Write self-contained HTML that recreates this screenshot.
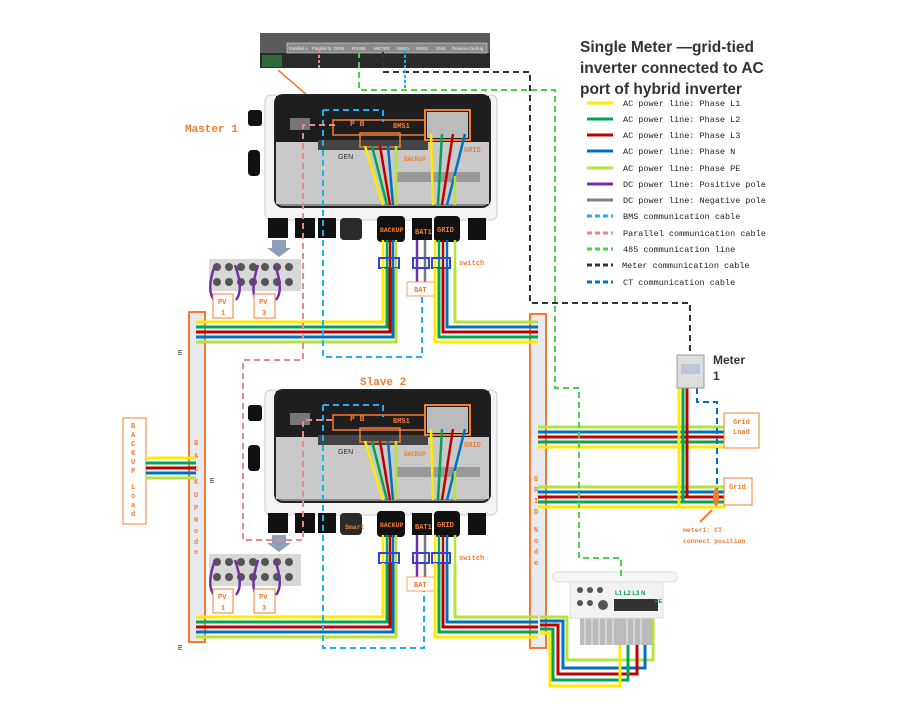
<!DOCTYPE html>
<html><head><meta charset="utf-8"><style>
body{margin:0;background:#fff;}
svg{display:block;font-family:"Liberation Sans",sans-serif;}
.o{fill:#f47c30;font-family:"Liberation Mono",monospace;font-weight:bold;}
.lg{font-family:"Liberation Mono",monospace;font-size:8.5px;fill:#222;}
</style></head><body>
<svg width="906" height="709" viewBox="0 0 906 709" xmlns="http://www.w3.org/2000/svg">
<defs>
<g id="inv">
 <rect x="265" y="95" width="232" height="125" rx="6" fill="#f4f4f4" stroke="#ccc"/>
 <rect x="275" y="95" width="215" height="112" rx="8" fill="#8a8a8a" stroke="#222" stroke-width="2"/>
 <rect x="276" y="96" width="213" height="46" fill="#1e1e1e"/>
 <rect x="276" y="142" width="213" height="62" fill="#c9c9c9"/>
 <rect x="290" y="118" width="20" height="12" fill="#777"/>
 <rect x="318" y="140" width="110" height="10" fill="#444"/>
 <rect x="395" y="172" width="85" height="10" fill="#999"/>
 <rect x="248" y="110" width="14" height="16" rx="3" fill="#111"/>
 <rect x="248" y="150" width="12" height="26" rx="4" fill="#111"/>
 <rect x="333" y="120" width="92" height="15" fill="none" stroke="#f47c30" stroke-width="1.5"/>
 <rect x="360" y="133" width="40" height="14" fill="none" stroke="#f47c30" stroke-width="1.5"/>
 <rect x="425" y="110" width="45" height="30" fill="none" stroke="#f47c30" stroke-width="2"/>
 <rect x="427" y="112" width="41" height="26" fill="#bbb"/>
 <text x="350" y="126" class="o" font-size="8">P  B</text>
 <text x="393" y="128" class="o" font-size="7">BMS1</text>
 <text x="404" y="161" class="o" font-size="6">BACKUP</text>
 <text x="464" y="152" class="o" font-size="7">GRID</text>
 <text x="338" y="159" font-size="7" fill="#333">GEN</text>
 <g fill="#111"><rect x="268" y="218" width="20" height="20"/><rect x="295" y="218" width="20" height="20"/><rect x="318" y="218" width="18" height="20"/><rect x="340" y="218" width="22" height="22" rx="4" fill="#2a2a2a"/><rect x="377" y="216" width="28" height="26" rx="4"/><rect x="412" y="218" width="20" height="22"/><rect x="434" y="216" width="26" height="26" rx="4"/><rect x="468" y="218" width="18" height="22"/></g>
 <text x="380" y="232" class="o" font-size="6.5">BACKUP</text>
 <text x="415" y="234" class="o" font-size="7">BAT1</text>
 <text x="437" y="232" class="o" font-size="7">GRID</text>
 <g stroke-width="2.5" fill="none">
  <path d="M365 146 L383 205" stroke="#ffea00"/><path d="M372 146 L387 205" stroke="#00a651"/><path d="M380 146 L390 205" stroke="#c00000"/><path d="M388 146 L393 205" stroke="#0070c0"/><path d="M396 146 L396 205" stroke="#b6e33a"/>
  <path d="M431 134 L433 205" stroke="#ffea00"/><path d="M442 134 L438 205" stroke="#00a651"/><path d="M453 134 L442 205" stroke="#c00000"/><path d="M465 134 L447 205" stroke="#0070c0"/><path d="M455 176 L455 205" stroke="#b6e33a"/>
 </g>
 <g stroke-width="2.5" fill="none">
  <path d="M383 240 V268" stroke="#ffea00"/><path d="M387 240 V268" stroke="#00a651"/><path d="M390 240 V268" stroke="#c00000"/><path d="M393 240 V268" stroke="#0070c0"/><path d="M396 240 V268" stroke="#b6e33a"/>
  <path d="M435 240 V268" stroke="#ffea00"/><path d="M439 240 V268" stroke="#00a651"/><path d="M443 240 V268" stroke="#c00000"/><path d="M447 240 V268" stroke="#0070c0"/><path d="M455 240 V268" stroke="#b6e33a"/>
  <path d="M417 240 V282" stroke="#7030a0"/><path d="M425 240 V282" stroke="#777"/>
 </g>
 <rect x="379" y="258" width="20" height="10" fill="none" stroke="#3344dd" stroke-width="2"/>
 <rect x="413" y="258" width="16" height="10" fill="none" stroke="#3344dd" stroke-width="2"/>
 <rect x="432" y="258" width="18" height="10" fill="none" stroke="#3344dd" stroke-width="2"/>
 <rect x="407" y="282" width="28" height="14" fill="#fff" stroke="#f4a070"/>
 <text x="414" y="292" class="o" font-size="7">BAT</text>
 <text x="459" y="265" class="o" font-size="7">switch</text>
 <path d="M272 240 h14 v8 h5 l-12 9 l-12 -9 h5z" fill="#8da0b8"/>
 <rect x="209" y="259" width="92" height="32" fill="#d8d8d8"/>
 <g fill="#555"><circle cx="217" cy="267" r="4"/><circle cx="229" cy="267" r="4"/><circle cx="241" cy="267" r="4"/><circle cx="253" cy="267" r="4"/><circle cx="265" cy="267" r="4"/><circle cx="277" cy="267" r="4"/><circle cx="289" cy="267" r="4"/><circle cx="217" cy="282" r="4"/><circle cx="229" cy="282" r="4"/><circle cx="241" cy="282" r="4"/><circle cx="253" cy="282" r="4"/><circle cx="265" cy="282" r="4"/><circle cx="277" cy="282" r="4"/><circle cx="289" cy="282" r="4"/></g>
 <path d="M215 265 Q206 290 214 300 M235 265 Q244 290 236 300 M258 265 Q250 290 256 300 M275 265 Q284 290 276 300" stroke="#7030a0" stroke-width="2.5" fill="none"/>
 <rect x="213" y="294" width="20" height="24" fill="#fff" stroke="#f47c30"/>
 <rect x="254" y="294" width="21" height="24" fill="#fff" stroke="#f47c30"/>
 <text x="218" y="304" class="o" font-size="7">PV</text><text x="221" y="315" class="o" font-size="7">1</text>
 <text x="259" y="304" class="o" font-size="7">PV</text><text x="262" y="315" class="o" font-size="7">3</text>
</g>
</defs>

<!-- top panel -->
<rect x="260" y="33" width="230" height="35" fill="#5a5a5a"/>
<rect x="260" y="53" width="230" height="15" fill="#2a2a2a"/>
<rect x="262" y="55" width="20" height="12" fill="#2f6b3a"/>
<rect x="287" y="43" width="200" height="10" fill="#8a8a8a" stroke="#ddd" stroke-width="0.6"/>
<g font-size="4.5" fill="#eee"><text x="289" y="50">Parallel A</text><text x="312" y="50">Parallel B</text><text x="334" y="50">DRM</text><text x="352" y="50">RS485</text><text x="374" y="50">METER</text><text x="397" y="50">BMS1</text><text x="416" y="50">BMS2</text><text x="436" y="50">EMS</text><text x="452" y="50">Reserve Debug</text></g>
<path d="M278 70 L330 115" stroke="#f47c30" stroke-width="1.5"/>

<use href="#inv"/>
<use href="#inv" transform="translate(0,295)"/>
<text x="345" y="529" class="o" font-size="6.5" transform="translate(0,0)">Smart</text>

<text x="185" y="132" class="o" font-size="11">Master 1</text>
<text x="360" y="385" class="o" font-size="11">Slave 2</text>

<!-- bus bars -->
<rect x="189" y="312" width="16" height="330" fill="#e8eaf0" stroke="#f47c30" stroke-width="2"/>
<rect x="530" y="314" width="16" height="334" fill="#e8eaf0" stroke="#f47c30" stroke-width="2"/>
<g class="o" font-size="7"><text x="194" y="445">B</text><text x="194" y="458">A</text><text x="194" y="471">C</text><text x="194" y="484">K</text><text x="194" y="497">U</text><text x="194" y="510">P</text><text x="194" y="522">N</text><text x="194" y="533">o</text><text x="194" y="544">d</text><text x="194" y="554">e</text>
<text x="534" y="481">G</text><text x="534" y="492">R</text><text x="534" y="503">I</text><text x="534" y="514">D</text><text x="534" y="532">N</text><text x="534" y="543">o</text><text x="534" y="554">d</text><text x="534" y="565">e</text></g>
<rect x="123" y="418" width="23" height="106" fill="#fff" stroke="#f47c30"/>
<g class="o" font-size="7"><text x="131" y="428">B</text><text x="131" y="437">A</text><text x="131" y="446">C</text><text x="131" y="455">K</text><text x="131" y="464">U</text><text x="131" y="473">P</text><text x="131" y="489">L</text><text x="131" y="498">o</text><text x="131" y="507">a</text><text x="131" y="516">d</text></g>
<g font-size="7" fill="#222"><text x="178" y="355">E</text><text x="178" y="650">E</text><text x="210" y="483">E</text></g>

<!-- AC wires master -->
<g stroke-width="3" fill="none">
<path d="M383 268 V322 H196" stroke="#ffea00"/><path d="M387 268 V327 H196" stroke="#00a651"/><path d="M390 268 V332 H196" stroke="#c00000"/><path d="M393 268 V337 H196" stroke="#0070c0"/><path d="M396 268 V342 H196" stroke="#b6e33a"/>
<path d="M435 268 V342 H538" stroke="#ffea00"/><path d="M439 268 V337 H538" stroke="#00a651"/><path d="M443 268 V332 H538" stroke="#c00000"/><path d="M447 268 V327 H538" stroke="#0070c0"/><path d="M455 268 V322 H538" stroke="#b6e33a"/>
<path d="M383 563 V617 H196" stroke="#ffea00"/><path d="M387 563 V622 H196" stroke="#00a651"/><path d="M390 563 V627 H196" stroke="#c00000"/><path d="M393 563 V632 H196" stroke="#0070c0"/><path d="M396 563 V637 H196" stroke="#b6e33a"/>
<path d="M435 563 V637 H538" stroke="#ffea00"/><path d="M439 563 V632 H538" stroke="#00a651"/><path d="M443 563 V627 H538" stroke="#c00000"/><path d="M447 563 V622 H538" stroke="#0070c0"/><path d="M455 563 V617 H538" stroke="#b6e33a"/>
<path d="M146 458 H196" stroke="#ffea00"/><path d="M146 463 H196" stroke="#00a651"/><path d="M146 468 H196" stroke="#c00000"/><path d="M146 473 H196" stroke="#0070c0"/><path d="M146 478 H196" stroke="#b6e33a"/>
<path d="M538 427 H725" stroke="#b6e33a"/><path d="M538 432 H725" stroke="#0070c0"/><path d="M538 437 H725" stroke="#c00000"/><path d="M538 442 H725" stroke="#00a651"/><path d="M538 447 H725" stroke="#ffea00"/>
<path d="M538 487 H725" stroke="#b6e33a"/><path d="M538 492 H725" stroke="#0070c0"/><path d="M538 497 H725" stroke="#c00000"/><path d="M538 502 H725" stroke="#00a651"/><path d="M538 507 H725" stroke="#ffea00"/>
<path d="M679 388 V507" stroke="#ffea00"/><path d="M683 388 V502" stroke="#00a651"/><path d="M687 388 V497" stroke="#c00000"/>
<path d="M540 617 H567 V660 H653 V608" stroke="#b6e33a"/><path d="M540 621 H563 V668 H645 V600" stroke="#0070c0"/><path d="M540 625 H558 V674 H637 V600" stroke="#c00000"/><path d="M540 629 H553 V680 H628 V600" stroke="#00a651"/><path d="M540 633 H550 V686 H620 V600" stroke="#ffea00"/>
</g>

<!-- hybrid inverter -->
<rect x="580" y="615" width="72" height="30" fill="#bbb"/>
<g stroke="#eee" stroke-width="1"><path d="M585 615v30M592 615v30M599 615v30M606 615v30M613 615v30M627 615v30M634 615v30M641 615v30"/></g>
<rect x="570" y="580" width="93" height="38" fill="#f2f2f2" stroke="#ddd"/>
<rect x="553" y="572" width="124" height="10" rx="4" fill="#f6f6f6" stroke="#ddd"/>
<rect x="614" y="599" width="44" height="12" fill="#333"/>
<g fill="#555"><circle cx="580" cy="590" r="3"/><circle cx="590" cy="590" r="3"/><circle cx="600" cy="590" r="3"/><circle cx="580" cy="603" r="3"/><circle cx="590" cy="603" r="3"/><circle cx="603" cy="605" r="5"/></g>
<text x="615" y="595" font-size="6" fill="#00a651" font-weight="bold">L1 L2 L3 N</text>
<text x="655" y="603" font-size="5.5" fill="#00a651" font-weight="bold">PE</text>

<!-- comm lines -->
<g fill="none" stroke-width="2" stroke-dasharray="6,4">
<path d="M359 52 V90 H555 V388 H579 V558 H621 V580" stroke="#4cd14c"/>
<path d="M383 52 V72 H530 V303 H690 V353" stroke="#333"/>
<path d="M323 110 H383 V122 M323 110 V357 H422 V296" stroke="#20b0f0"/>
<path d="M323 405 H383 V417 M323 405 V648 H424 V591" stroke="#20b0f0"/>
<path d="M335 125 H303 V360 H243 V540 H303 V420 H335" stroke="#e88a8a"/>
<path d="M697 388 V402 H717 V497" stroke="#0070c0"/>
</g>
<path d="M405 50 V88" stroke="#20b0f0" stroke-width="2" stroke-dasharray="3,2"/>
<path d="M319 50 V68" stroke="#e88a8a" stroke-width="2" stroke-dasharray="3,2"/>
<ellipse cx="716" cy="497" rx="3" ry="9" fill="#f47c30"/>
<path d="M700 522 L712 510" stroke="#f47c30" stroke-width="2"/>

<!-- meter -->
<rect x="677" y="355" width="27" height="33" fill="#ddd" stroke="#999"/>
<rect x="681" y="364" width="19" height="10" fill="#b8c8d8"/>
<text x="713" y="364" font-size="12" font-weight="bold" fill="#333">Meter</text>
<text x="713" y="380" font-size="12" font-weight="bold" fill="#333">1</text>
<rect x="724" y="413" width="35" height="35" fill="#fff" stroke="#f47c30"/>
<text x="733" y="424" class="o" font-size="7">Grid</text><text x="733" y="434" class="o" font-size="7">Load</text>
<rect x="724" y="478" width="28" height="27" fill="#fff" stroke="#f47c30"/>
<text x="729" y="489" class="o" font-size="7">Grid</text>
<text x="683" y="532" class="o" font-size="6.5">meter1: CT</text>
<text x="683" y="543" class="o" font-size="6.5">connect position</text>

<!-- title & legend -->
<text x="580" y="52" font-size="15.5" font-weight="bold" fill="#333">Single Meter —grid-tied</text>
<text x="580" y="73" font-size="15.5" font-weight="bold" fill="#333">inverter connected to AC</text>
<text x="580" y="94" font-size="15.5" font-weight="bold" fill="#333">port of hybrid inverter</text>
<g stroke-width="3">
<line x1="587" y1="103" x2="613" y2="103" stroke="#ffea00"/>
<line x1="587" y1="119" x2="613" y2="119" stroke="#00a651"/>
<line x1="587" y1="135" x2="613" y2="135" stroke="#c00000"/>
<line x1="587" y1="151" x2="613" y2="151" stroke="#0070c0"/>
<line x1="587" y1="168" x2="613" y2="168" stroke="#b6e33a"/>
<line x1="587" y1="184" x2="613" y2="184" stroke="#7030a0"/>
<line x1="587" y1="200" x2="613" y2="200" stroke="#808080"/>
<line x1="587" y1="216" x2="613" y2="216" stroke="#20b0f0" stroke-dasharray="5,3"/>
<line x1="587" y1="233" x2="613" y2="233" stroke="#e88a8a" stroke-dasharray="5,3"/>
<line x1="587" y1="249" x2="613" y2="249" stroke="#4cd14c" stroke-dasharray="5,3"/>
<line x1="587" y1="265" x2="613" y2="265" stroke="#333" stroke-dasharray="5,3"/>
<line x1="587" y1="282" x2="613" y2="282" stroke="#0070c0" stroke-dasharray="5,3"/>
</g>
<g class="lg">
<text x="623" y="106">AC power line: Phase L1</text>
<text x="623" y="122">AC power line: Phase L2</text>
<text x="623" y="138">AC power line: Phase L3</text>
<text x="623" y="154">AC power line: Phase N</text>
<text x="623" y="171">AC power line: Phase PE</text>
<text x="623" y="187">DC power line: Positive pole</text>
<text x="623" y="203">DC power line: Negative pole</text>
<text x="623" y="219">BMS communication cable</text>
<text x="623" y="236">Parallel communication cable</text>
<text x="623" y="252">485 communication line</text>
<text x="622" y="268">Meter communication cable</text>
<text x="623" y="285">CT communication cable</text>
</g>
</svg>
</body></html>
